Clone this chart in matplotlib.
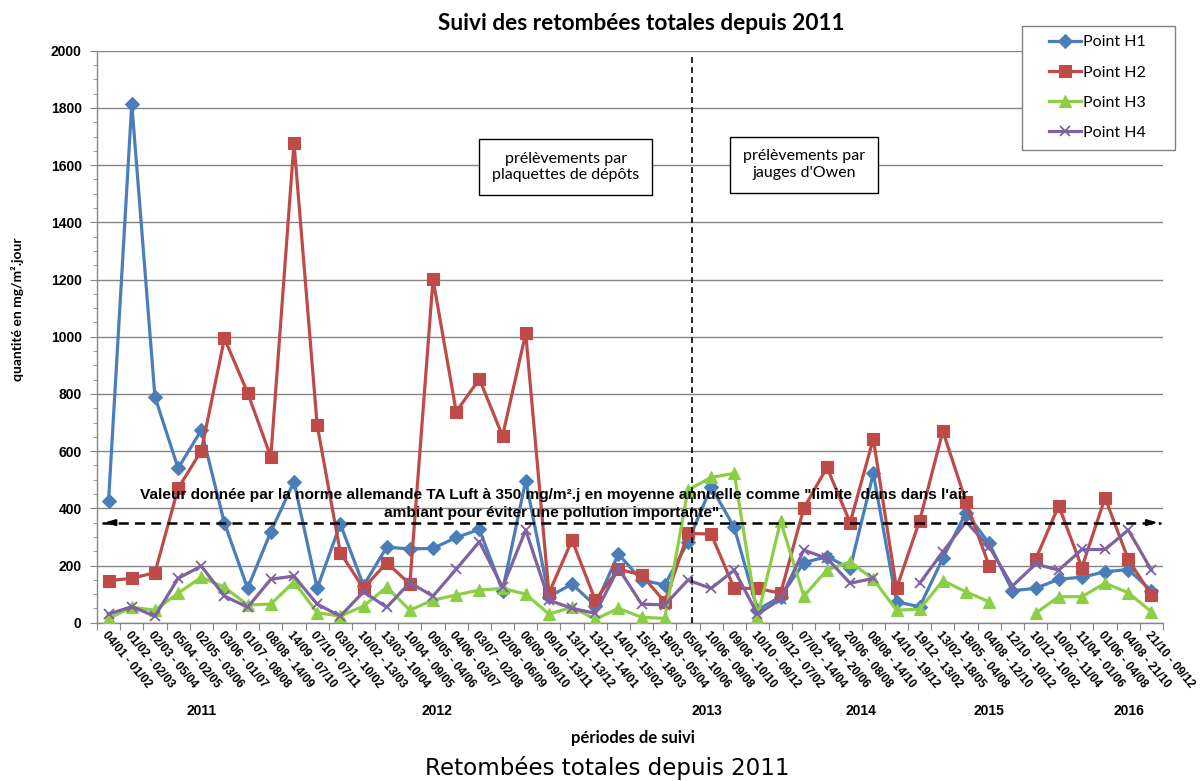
import numpy as np
import matplotlib
matplotlib.use("Agg")
import matplotlib.pyplot as plt
from matplotlib.ticker import MultipleLocator, FixedLocator, NullFormatter
from matplotlib.transforms import blended_transform_factory
from matplotlib.patches import Rectangle

nan = np.nan

periods = ["04/01 - 01/02", "01/02 - 02/03", "02/03 - 05/04", "05/04 - 02/05", "02/05 - 03/06",
           "03/06 - 01/07", "01/07 - 08/08", "08/08 - 14/09", "14/09 - 07/10", "07/10 - 07/11",
           "03/01 - 10/02", "10/02 - 13/03", "13/03 - 10/04", "10/04 - 09/05", "09/05 - 04/06",
           "04/06 - 03/07", "03/07 - 02/08", "02/08 - 06/09", "06/09 - 09/10", "09/10 - 13/11",
           "13/11 - 13/12", "13/12 - 14/01", "14/01 - 15/02", "15/02 - 18/03", "18/03 - 05/04",
           "05/04 - 10/06", "10/06 - 09/08", "09/08 - 10/10", "10/10 - 09/12", "09/12 - 07/02",
           "07/02 - 14/04", "14/04 - 20/06", "20/06 - 08/08", "08/08 - 14/10", "14/10 - 19/12",
           "19/12 - 13/02", "13/02 - 18/05", "18/05 - 04/08", "04/08 - 12/10", "12/10 - 10/12",
           "10/12 - 10/02", "10/02 - 11/04", "11/04 - 01/06", "01/06 - 04/08", "04/08 - 21/10",
           "21/10 - 09/12"]

h1 = [427, 1815, 790, 540, 673, 348, 120, 318, 493, 120,
      345, 130, 264, 258, 260, 298, 326, 112, 497, 91,
      135, 60, 240, 149, 132, 282, 475, 333, 45, 91,
      210, 231, 190, 522, 73, 56, 225, 385, 277, 112,
      120, 152, 159, 178, 186, 112]
h2 = [147, 155, 175, 470, 601, 994, 804, 580, 1678, 691,
      245, 120, 210, 135, 1201, 738, 852, 653, 1012, 103,
      289, 79, 187, 167, 73, 312, 310, 120, 120, 103,
      400, 543, 350, 643, 120, 357, 670, 423, 198, nan,
      221, 409, 193, 437, 221, 97]
h3 = [15, 54, 44, 103, 159, 124, 62, 65, 143, 35,
      23, 58, 124, 44, 79, 97, 114, 120, 100, 30,
      54, 12, 50, 19, 15, 464, 508, 522, 19, 355,
      93, 184, 213, 152, 44, 47, 147, 108, 73, nan,
      33, 91, 91, 138, 105, 38]
h4 = [30, 56, 23, 155, 198, 93, 54, 152, 163, 65,
      23, 108, 54, 140, 93, 187, 283, 124, 324, 79,
      50, 33, 190, 65, 62, 149, 120, 184, 30, 82,
      254, 225, 138, 155, nan, 138, 248, 353, 266, 128,
      205, 184, 256, 256, 324, 184]

series_names = ["Point H1", "Point H2", "Point H3", "Point H4"]
years = ["2011", "2012", "2013", "2014", "2015", "2016"]
year_pos = [4.0, 14.15, 25.8, 32.45, 38.0, 44.05]
limit_value = 350
method_change = 25.17

colors = ["#4A7EBB", "#BE4B48", "#8CCF47", "#7E62A1"]
markers = ["D", "s", "^", "x"]
msizes = [7, 8, 8.5, 7.5]

fig = plt.figure(figsize=(12, 7.81), dpi=100)
ax = fig.add_axes([97 / 1200, (781 - 622.7) / 781, (1163 - 97) / 1200, 572 / 781])

x = np.arange(len(periods))
lines = []
for vals, name, c, m, ms in zip([h1, h2, h3, h4], series_names, colors, markers, msizes):
    ln, = ax.plot(x, vals, color=c, lw=2.3, marker=m, markersize=ms, markerfacecolor=c,
                  markeredgecolor=c, markeredgewidth=1.3 if m == "x" else 0.8, label=name,
                  zorder=3)
    lines.append(ln)

ax.set_xlim(-0.5, len(periods) - 0.5)
ax.set_ylim(0, 2000)

gray = "#868686"
for s in ["top", "right"]:
    ax.spines[s].set_visible(False)
for s in ["left", "bottom"]:
    ax.spines[s].set_color(gray)
    ax.spines[s].set_linewidth(1)

ax.yaxis.set_major_locator(MultipleLocator(200))
ax.yaxis.set_minor_locator(MultipleLocator(50))
ax.yaxis.grid(True, which="major", color=gray, lw=1, zorder=0)
ax.set_axisbelow(True)
ax.tick_params(axis="y", which="major", length=5, color=gray, pad=6)
ax.tick_params(axis="y", which="minor", length=3, color=gray)
for lab in ax.get_yticklabels():
    lab.set_fontfamily("Liberation Sans")
    lab.set_fontweight("bold")
    lab.set_fontsize(10)

ax.xaxis.set_major_locator(FixedLocator(np.arange(-0.5, len(periods), 1.0)))
ax.xaxis.set_major_formatter(NullFormatter())
ax.set_xticks(x, periods, minor=True)
ax.tick_params(axis="x", which="major", length=5, color=gray)
ax.tick_params(axis="x", which="minor", length=0, pad=5)
for lab in ax.get_xticklabels(minor=True):
    lab.set_fontfamily("Liberation Sans")
    lab.set_fontweight("bold")
    lab.set_fontsize(8.5)
    lab.set_rotation(-50)
    lab.set_rotation_mode("anchor")
    lab.set_ha("left")
    lab.set_va("top")

# limit line with arrows
ax.plot([-0.3, len(periods) - 0.6], [limit_value, limit_value], color="black", lw=1.8,
        ls=(0, (4, 2.5)), zorder=4)
ax.annotate("", xy=(-0.3, limit_value), xytext=(0.3, limit_value),
            arrowprops=dict(arrowstyle="-|>,head_length=0.6,head_width=0.18", color="black", lw=1.5),
            zorder=4)
ax.annotate("", xy=(len(periods) - 0.6, limit_value), xytext=(len(periods) - 1.2, limit_value),
            arrowprops=dict(arrowstyle="-|>,head_length=0.6,head_width=0.18", color="black", lw=1.5),
            zorder=4)

ax.text(19.2, 446, 'Valeur donnée par la norme allemande TA Luft à 350 mg/m².j en moyenne annuelle comme "limite  dans dans l\'air',
        ha="center", va="center", fontfamily="Liberation Sans", fontweight="bold", fontsize=11.1, zorder=5)
ax.text(19.2, 382, 'ambiant pour éviter une pollution importante".',
        ha="center", va="center", fontfamily="Liberation Sans", fontweight="bold", fontsize=11.1, zorder=5)

# method change line
ax.plot([method_change, method_change], [0, 1990], color="black", lw=1.2, ls=(0, (3.5, 2.5)), zorder=4)

box = dict(boxstyle="square,pad=0.8", fc="white", ec="black", lw=1)
ax.text(19.73, 1593, "prélèvements par\nplaquettes de dépôts", ha="center", va="center",
        fontfamily="Lato", fontsize=11.5, linespacing=1.25, bbox=box, zorder=6)
ax.text(30.0, 1601, "prélèvements par\njauges d'Owen", ha="center", va="center",
        fontfamily="Lato", fontsize=11.5, linespacing=1.25, bbox=box, zorder=6)

# year labels
trans = blended_transform_factory(ax.transData, ax.transAxes)
for yl, yp in zip(years, year_pos):
    ax.text(yp, -0.155, yl, transform=trans, ha="center", va="center",
            fontfamily="Liberation Sans", fontweight="bold", fontsize=10)

fig.text(641 / 1200, 1 - 23 / 781, "Suivi des retombées totales depuis 2011", ha="center", va="center",
         fontfamily="Lato", fontweight="bold", fontsize=16.3)
fig.text(633 / 1200, 1 - 738 / 781, "périodes de suivi", ha="center", va="center",
         fontfamily="Lato", fontweight="bold", fontsize=12)
fig.text(18 / 1200, 1 - 309 / 781, "quantité en mg/m².jour", ha="center", va="center", rotation=90,
         fontfamily="Lato", fontweight="bold", fontsize=10)
fig.text(607 / 1200, 1 - 768 / 781, "Retombées totales depuis 2011", ha="center", va="center",
         fontfamily="DejaVu Sans", fontsize=16.6)

# legend with hand-drawn frame
frame = Rectangle((1021.7 / 1200, 1 - 150 / 781), (1175 - 1021.7) / 1200, (150 - 25.7) / 781,
                  transform=fig.transFigure, fc="white", ec="#808080", lw=1, zorder=4)
fig.patches.append(frame)
leg = fig.legend(handles=lines, loc="center left", bbox_to_anchor=(1049.3 / 1200, 1 - 87.5 / 781),
                 prop=dict(family="Lato", size=11.5), frameon=False,
                 handlelength=2.0, handletextpad=0.1, labelspacing=1.0,
                 borderpad=0, borderaxespad=0)
leg.set_zorder(5)

fig.savefig("out.png", dpi=100)
